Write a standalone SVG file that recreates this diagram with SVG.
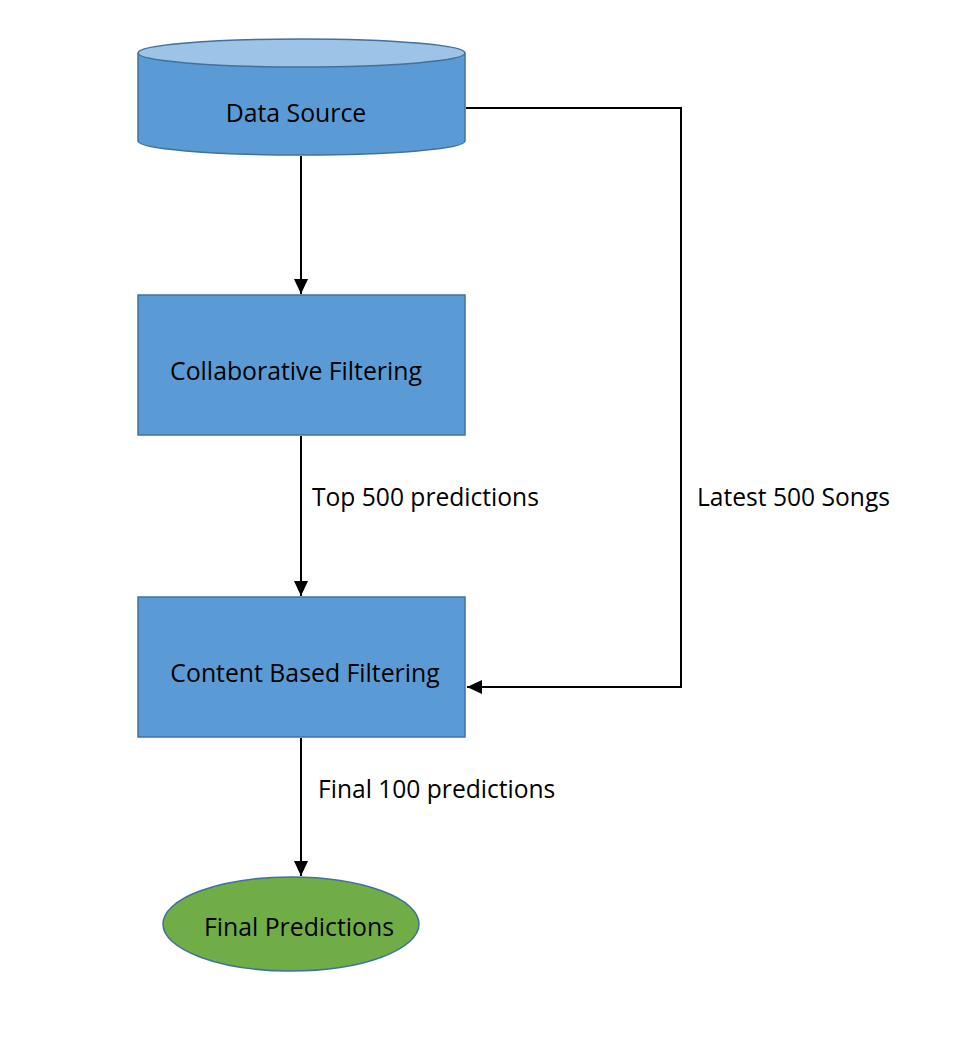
<svg xmlns="http://www.w3.org/2000/svg" width="958" height="1040" viewBox="0 0 958 1040">
<style>
.node{fill:#5B9BD5;stroke:#41719C;stroke-width:1.5}
.t{font-family:"Open Sans","Liberation Sans",sans-serif;font-size:24.8px;fill:#000}
.lbl{font-family:"Open Sans","Liberation Sans",sans-serif;font-size:24.6px;fill:#000}
.c{fill:none;stroke:#000;stroke-width:2}
</style>
<defs>
<marker id="ah2" markerWidth="16" markerHeight="16" refX="15" refY="8" orient="auto" markerUnits="userSpaceOnUse" viewBox="0 0 16 16">
<path d="M0,1 L15,8 L0,15 z" fill="#000"/>
</marker>
</defs>
<rect width="958" height="1040" fill="#fff"/>
<g id="connectors">
<path class="c" d="M301,156 L301,294" marker-end="url(#ah2)"/>
<path class="c" d="M301,436 L301,596" marker-end="url(#ah2)"/>
<path class="c" d="M466,108 L681,108 L681,687 L467,687" marker-end="url(#ah2)"/>
<path class="c" d="M301,738 L301,876" marker-end="url(#ah2)"/>
<text class="lbl" x="312" y="506">Top 500 predictions</text>
<text class="lbl" x="697" y="506">Latest 500 Songs</text>
<text class="lbl" x="318" y="798">Final 100 predictions</text>
</g>
<g id="data-source">
<path class="node" d="M138,53 L138,141 A163.5,14 0 0 0 465,141 L465,53"/>
<ellipse cx="301.5" cy="53" rx="163.5" ry="14" fill="#9DC3E6" stroke="#41719C" stroke-width="1.5"/>
<text class="t" x="296" y="122" text-anchor="middle">Data Source</text>
</g>
<g id="collaborative-filtering">
<rect class="node" x="138" y="295" width="327" height="140"/>
<text class="t" x="296" y="380" text-anchor="middle">Collaborative Filtering</text>
</g>
<g id="content-based-filtering">
<rect class="node" x="138" y="597" width="327" height="140"/>
<text class="t" x="305" y="682" text-anchor="middle">Content Based Filtering</text>
</g>
<g id="final-predictions">
<ellipse cx="291" cy="924" rx="128" ry="47" fill="#70AD47" stroke="#41719C" stroke-width="1.5"/>
<text class="t" x="299" y="936" text-anchor="middle">Final Predictions</text>
</g>
</svg>
